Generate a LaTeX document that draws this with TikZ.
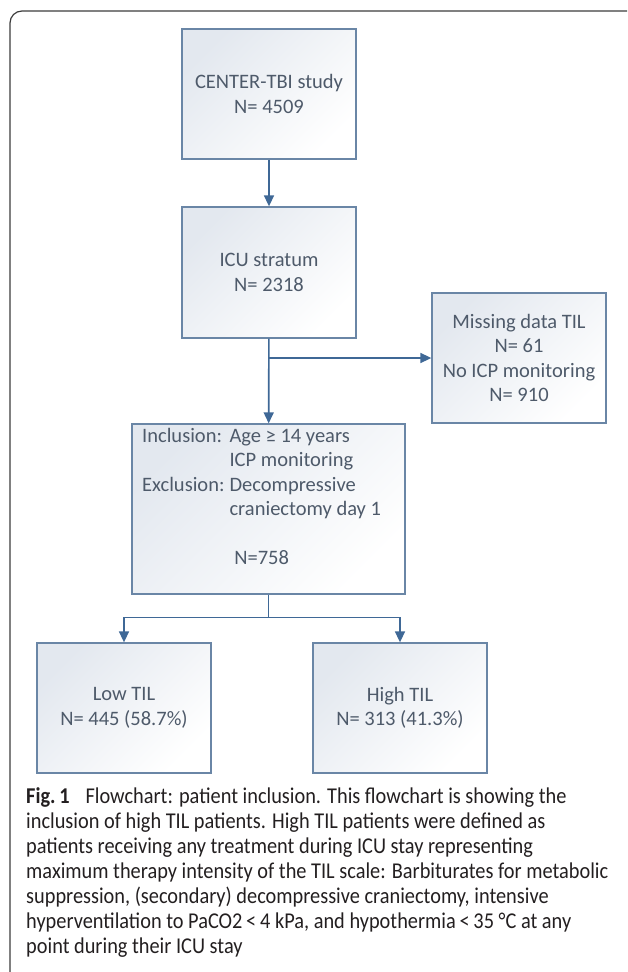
\documentclass[tikz,border=0pt]{standalone}
\usepackage{xcolor}
\usepackage{fontspec}
\setmainfont{Carlito}
\newfontfamily\piefuente[FakeStretch=0.9]{Carlito}
\usepackage{tikz}
\usetikzlibrary{arrows.meta}

\definecolor{borde}{HTML}{6A86A6}
\definecolor{flechaazul}{HTML}{3F6896}
\definecolor{sombra}{HTML}{E3E8EF}
\definecolor{texto}{HTML}{4E5A6A}
\definecolor{marco}{HTML}{3C3C3C}
\definecolor{pie}{HTML}{231F20}

\begin{document}
\begin{tikzpicture}[x=1pt, y=-1pt,
    caja/.style={draw=borde, line width=1.3pt, top color=sombra, bottom color=white, shading angle=45,
        minimum width=174pt, minimum height=130pt, inner sep=0pt, align=center, text=texto,
        font=\fontsize{20.5}{24.5}\selectfont},
    flecha/.style={draw=flechaazul, line width=1.6pt, -{Triangle[width=10pt,length=11pt]}},
    linea/.style={draw=flechaazul, line width=1.6pt}]
    \useasboundingbox (0,0) rectangle (627,972);
    % Marco
    \draw[marco, line width=1.2pt, rounded corners=12pt] (10,972) -- (10,11) -- (627,11);
    % Cajas
    \node[caja] (estudio) at (269,94) {CENTER-TBI study\\N= 4509};
    \node[caja, minimum height=131pt] (uci) at (269,272.5) {ICU stratum\\N= 2318};
    \node[caja] (perdidos) at (519,358) {Missing data TIL\\N= 61\\No ICP monitoring\\N= 910};
    \node[caja, minimum width=273pt, minimum height=170pt] (seleccion) at (268.5,509) {};
    \node[anchor=base west, inner sep=0pt, text=texto, font=\fontsize{20.5}{24.5}\selectfont] (criterios) at (142,442)
        {\begin{tabular}[t]{@{}l@{\hspace{5pt}}l@{}}
            Inclusion: & Age ≥ 14 years\\
                       & ICP monitoring\\
            Exclusion: & Decompressive\\
                       & craniectomy day 1\\[24.5pt]
            \multicolumn{2}{c}{N=758}
        \end{tabular}};
    \node[caja] (bajo) at (124,708) {Low TIL\\N= 445 (58.7\%)};
    \node[caja] (alto) at (400,708) {High TIL\\N= 313 (41.3\%)};
    % Flechas
    \draw[flecha] (estudio) -- (uci);
    \draw[flecha] (uci) -- (seleccion);
    \draw[flecha] (uci.south |- perdidos.west) -- (perdidos);
    \draw[linea] (seleccion.south) -- ++(0,23) coordinate (rama);
    \draw[flecha] (rama) -| (bajo);
    \draw[flecha] (rama) -| (alto);
    % Pie de figura
    \node[anchor=base west, align=left, inner sep=0pt, text=pie, font=\piefuente\fontsize{22.6}{25}\selectfont] (leyenda) at (26,953)
        {{\bfseries Fig.\,1}\hspace{0.5em} Flowchart: patient inclusion. This flowchart is showing the\\
        inclusion of high TIL patients. High TIL patients were defined as\\
        patients receiving any treatment during ICU stay representing\\
        maximum therapy intensity of the TIL scale: Barbiturates for metabolic\\
        suppression, (secondary) decompressive craniectomy, intensive\\
        hyperventilation to PaCO2\,<\,4 kPa, and hypothermia\,<\,35 °C at any\\
        point during their ICU stay};
\end{tikzpicture}
\end{document}
